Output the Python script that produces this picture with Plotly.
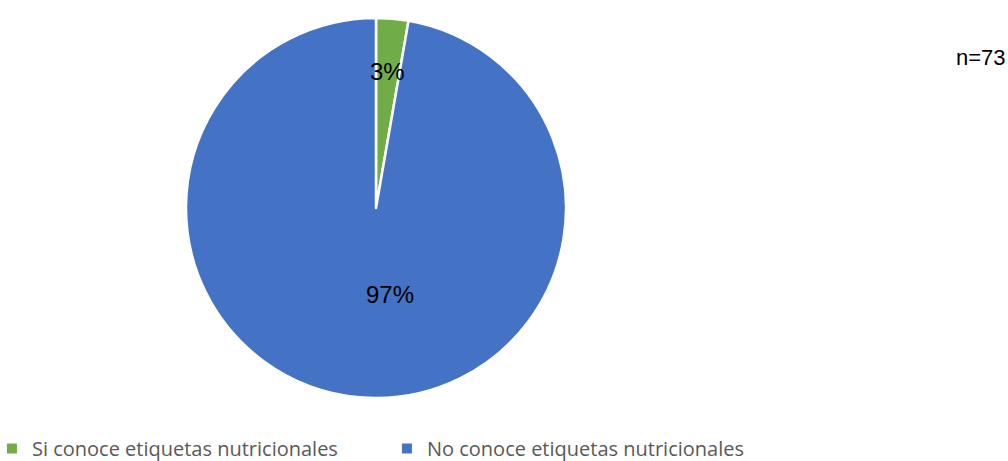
import math
import plotly.graph_objects as go

# Survey responses (n = 73)
categories = ["Si conoce etiquetas nutricionales", "No conoce etiquetas nutricionales"]
counts = [2, 71]
colors = ["#70AD47", "#4472C4"]
sample_label = "n=73"

# label placement inside each slice: fraction of radius, extra angular shift (deg)
label_radius = [0.72, 0.46]
label_shift = [0.0, -14.0]

W, H = 1008, 461
cx, cy, r = 376, 208, 190  # pie centre/radius in px

fig = go.Figure(
    go.Pie(
        labels=categories,
        values=counts,
        marker=dict(colors=colors, line=dict(color="white", width=2.5)),
        sort=False,
        direction="clockwise",
        rotation=0,
        textinfo="none",
        hoverinfo="label+percent",
        domain=dict(x=[(cx - r) / W, (cx + r) / W], y=[1 - (cy + r) / H, 1 - (cy - r) / H]),
    )
)

# percentage labels, positioned from each slice's mid-angle
total = sum(counts)
start = 0.0
for v, rf, sh in zip(counts, label_radius, label_shift):
    frac = v / total
    mid = (start + frac / 2) * 360 + sh
    start += frac
    px = cx + rf * r * math.sin(math.radians(mid))
    py = cy - rf * r * math.cos(math.radians(mid))
    fig.add_annotation(
        x=px / W, y=1 - py / H, xref="paper", yref="paper",
        xanchor="center", yanchor="middle",
        text=f"{round(frac * 100)}%", showarrow=False,
        font=dict(family="Liberation Sans, Arial, sans-serif", size=24, color="#000000"),
    )

fig.add_annotation(
    x=1.0, y=1 - 57 / H, xref="paper", yref="paper", xanchor="right", yanchor="middle",
    text=sample_label, showarrow=False,
    font=dict(family="Liberation Sans, Arial, sans-serif", size=22, color="#000000"),
)

fig.update_layout(
    width=W, height=H,
    margin=dict(l=0, r=0, t=0, b=0, autoexpand=False),
    paper_bgcolor="white", plot_bgcolor="white",
    showlegend=True,
    legend=dict(
        orientation="h", x=-0.008, y=-0.015, xanchor="left", yanchor="bottom",
        xref="paper", yref="paper",
        font=dict(family="Open Sans, sans-serif", size=20, color="#595959"),
        entrywidth=350, entrywidthmode="pixels",
        itemsizing="constant",
        traceorder="normal",
    ),
)

fig.write_html("out.html")
